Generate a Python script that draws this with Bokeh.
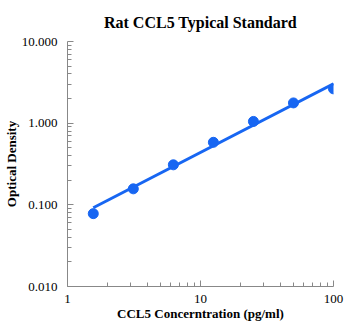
from bokeh.plotting import figure
from bokeh.models import FixedTicker, PrintfTickFormatter, Range1d
from bokeh.embed import file_html
from bokeh.resources import INLINE

conc = [1.5625, 3.125, 6.25, 12.5, 25, 50, 100]
od = [0.078, 0.157, 0.309, 0.583, 1.05, 1.77, 2.63]
fit_conc = [1.5625, 100]
fit_od = [0.092, 3.03]
x_ticks = [1, 10, 100]
y_ticks = [0.01, 0.1, 1, 10]

x_minor = [m * d for d in x_ticks[:-1] for m in range(2, 10)]
y_minor = [m * d for d in y_ticks[:-1] for m in range(2, 10)]

BLUE = "#1766f2"
SERIF = "Liberation Serif"

p = figure(width=350, height=323, x_axis_type="log", y_axis_type="log",
           x_range=Range1d(1, 100), y_range=Range1d(0.01, 10),
           output_backend="svg", toolbar_location=None,
           min_border_left=66, min_border_right=17,
           min_border_top=41, min_border_bottom=37)

p.title.text = "Rat CCL5 Typical Standard"
p.title.text_font = SERIF
p.title.text_font_style = "bold"
p.title.text_font_size = "16px"
p.title.align = "center"
p.title.text_color = "#000000"
p.title.standoff = 21

p.outline_line_color = None
p.xgrid.visible = False
p.ygrid.visible = False

p.line(fit_conc, fit_od, line_color=BLUE, line_width=3)
p.scatter(conc, od, size=10, fill_color=BLUE, line_color=BLUE)

for ax, ticks, minor in ((p.xaxis[0], x_ticks, x_minor), (p.yaxis[0], y_ticks, y_minor)):
    ax.ticker = FixedTicker(ticks=ticks, minor_ticks=minor)
    ax.axis_line_color = "#888888"
    ax.major_tick_line_color = "#888888"
    ax.minor_tick_line_color = "#888888"
    ax.major_tick_in = 6
    ax.major_tick_out = 0
    ax.minor_tick_in = 4
    ax.minor_tick_out = 0
    ax.major_label_text_font = SERIF
    ax.major_label_text_font_size = "13px"
    ax.major_label_text_color = "#000000"
    ax.axis_label_text_font = SERIF
    ax.axis_label_text_font_style = "bold"
    ax.axis_label_text_font_size = "13px"
    ax.axis_label_text_color = "#000000"

p.xaxis[0].formatter = PrintfTickFormatter(format="%d")
p.yaxis[0].formatter = PrintfTickFormatter(format="%.3f")
p.xaxis[0].axis_label = "CCL5 Concerntration (pg/ml)"
p.yaxis[0].axis_label = "Optical Density"
p.xaxis[0].major_label_standoff = 8
p.xaxis[0].axis_label_standoff = 0
p.yaxis[0].major_label_standoff = 10
p.yaxis[0].axis_label_standoff = 0

open("out.html", "w").write(file_html(p, INLINE))
